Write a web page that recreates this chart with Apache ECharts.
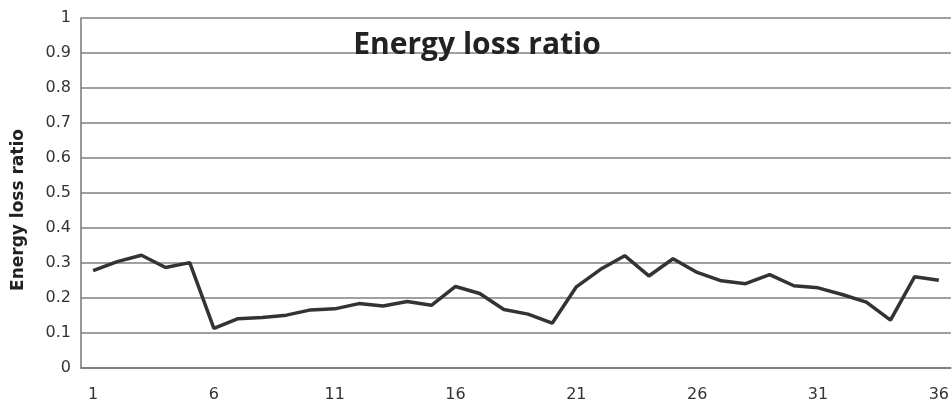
<!DOCTYPE html>
<html>
<head>
<meta charset="utf-8">
<script src="https://cdn.jsdelivr.net/npm/echarts@6/dist/echarts.min.js"></script>
<style>
  html, body { margin: 0; padding: 0; background: #fff; }
  #chart { width: 952px; height: 405px; }
</style>
</head>
<body>
<div id="chart"></div>
<script>
// Sample indices 1..36 along the x axis
const categories = [];
for (let i = 1; i <= 36; i++) categories.push(String(i));

// Energy loss ratio per sample
const lossRatio = [
  0.278, 0.304, 0.322, 0.287, 0.301, 0.113, 0.141, 0.144, 0.151, 0.166,
  0.169, 0.184, 0.177, 0.190, 0.179, 0.233, 0.213, 0.167, 0.154, 0.128,
  0.232, 0.282, 0.321, 0.263, 0.312, 0.273, 0.249, 0.241, 0.267, 0.235,
  0.229, 0.210, 0.188, 0.137, 0.261, 0.251
];

const titleText = 'Energy loss ratio';
const yAxisName = 'Energy loss ratio';

const chart = echarts.init(document.getElementById('chart'));
chart.setOption({
  animation: false,
  backgroundColor: '#fff',
  title: {
    text: titleText,
    left: 472,
    top: 25,
    textAlign: 'center',
    textStyle: { fontFamily: 'Open Sans', fontWeight: 'bold', fontSize: 30, color: '#222' }
  },
  grid: { left: 81, right: 0, top: 18, bottom: 37 },
  xAxis: {
    type: 'category',
    data: categories,
    boundaryGap: true,
    axisLine: { lineStyle: { color: '#777', width: 1.5 } },
    axisTick: {
      interval: (idx) => idx % 2 === 1,
      length: 5,
      lineStyle: { color: '#777', width: 1.5 }
    },
    axisLabel: {
      interval: 4,
      margin: 19,
      fontFamily: 'DejaVu Sans',
      fontSize: 16,
      color: '#333'
    }
  },
  yAxis: {
    type: 'value',
    min: 0,
    max: 1,
    interval: 0.1,
    name: yAxisName,
    nameLocation: 'middle',
    nameGap: 54,
    // extra right padding nudges the rotated title toward the bottom
    nameTextStyle: {
      fontFamily: 'DejaVu Sans', fontWeight: 'bold', fontSize: 17, color: '#222',
      padding: [0, 34, 0, 0]
    },
    axisLine: { show: true, lineStyle: { color: '#777', width: 1.5 } },
    axisTick: { show: false },
    axisLabel: {
      margin: 10,
      fontFamily: 'DejaVu Sans',
      fontSize: 16,
      color: '#333',
      formatter: (v) => String(Math.round(v * 10) / 10)
    },
    splitLine: { lineStyle: { color: '#808080', width: 1.5 } }
  },
  series: [{
    type: 'line',
    data: lossRatio,
    symbol: 'none',
    lineStyle: { color: '#333', width: 3.5 }
  }]
});
</script>
</body>
</html>
